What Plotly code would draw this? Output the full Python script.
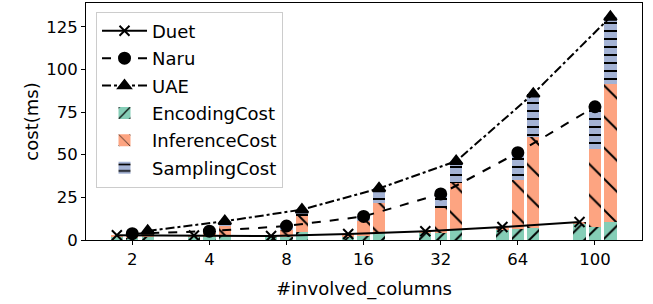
import plotly.graph_objects as go

categories = ['2', '4', '8', '16', '32', '64', '100']

duet_encoding = [1.8, 1.6, 1.5, 2.0, 4.3, 6.0, 9.3]
duet_inference = [1.0, 1.0, 0.8, 1.5, 0.8, 1.6, 1.2]
duet_sampling = [0, 0, 0, 0, 0, 0, 0]

naru_encoding = [1.2, 1.5, 2.0, 2.5, 4.3, 6.4, 7.8]
naru_inference = [1.8, 2.5, 4.0, 8.5, 14.3, 28.8, 45.5]
naru_sampling = [0.7, 1.2, 2.2, 2.8, 8.4, 16.0, 24.8]

uae_encoding = [1.5, 2.5, 4.5, 3.9, 6.0, 6.8, 10.7]
uae_inference = [2.8, 6.0, 9.5, 18.0, 27.6, 53.4, 81.0]
uae_sampling = [1.0, 2.5, 3.8, 8.3, 12.6, 25.5, 39.0]

methods = ['Duet', 'Naru', 'UAE']
offsets = [-0.2, 0.0, 0.2]
enc = [duet_encoding, naru_encoding, uae_encoding]
inf = [duet_inference, naru_inference, uae_inference]
smp = [duet_sampling, naru_sampling, uae_sampling]

FONT = 'DejaVu Sans'
idx = list(range(len(categories)))

fig = go.Figure()

# Lines (totals)
line_styles = [('solid', 'x-thin', 10), ('dash', 'circle', 11), ('dashdot', 'triangle-up', 11)]
for m, name in enumerate(methods):
    xs = [i + offsets[m] for i in idx]
    ys = [enc[m][i] + inf[m][i] + smp[m][i] for i in idx]
    dash, sym, sz = line_styles[m]
    fig.add_trace(go.Scatter(
        x=xs, y=ys, name=name, mode='lines+markers',
        line=dict(color='black', width=2, dash=dash),
        marker=dict(symbol=sym, size=sz, color='black',
                    line=dict(color='black', width=2)),
        legendgroup=name,
    ))

# Stacked bars
bar_specs = [
    ('EncodingCost', enc, 'rgba(102,194,165,0.8)', '/', 13, 0.15),
    ('InferenceCost', inf, 'rgba(252,141,98,0.8)', '\\', 22, 0.09),
    ('SamplingCost', smp, 'rgba(141,160,203,0.8)', '-', 8, 0.25),
]
for name, data, color, shape, psize, sol in bar_specs:
    xs, ys = [], []
    for m in range(3):
        for i in idx:
            xs.append(i + offsets[m])
            ys.append(data[m][i])
    fig.add_trace(go.Bar(
        x=xs, y=ys, name=name, width=0.16,
        marker=dict(color=color, line=dict(width=0),
                    pattern=dict(shape=shape, fgcolor='black', bgcolor=color,
                                 size=psize, solidity=sol, fillmode='replace')),
        legendgroup=name,
    ))

fig.update_layout(
    width=653, height=304,
    margin=dict(l=86, r=11, t=3, b=64),
    barmode='stack',
    plot_bgcolor='white', paper_bgcolor='white',
    font=dict(family=FONT, size=16, color='black'),
    showlegend=True,
    legend=dict(x=0.018, y=0.964, xanchor='left', yanchor='top',
                bgcolor='rgba(255,255,255,0.8)', bordercolor='#cccccc', borderwidth=1,
                font=dict(size=18, family=FONT), tracegroupgap=1,
                itemwidth=45, traceorder='grouped'),
    xaxis=dict(
        range=[-0.60, 6.61], tickmode='array', tickvals=idx, ticktext=categories,
        showline=True, mirror=True, linecolor='black', linewidth=1,
        ticks='outside', ticklen=4, tickcolor='black', showgrid=False, zeroline=False,
        tickfont=dict(size=16.5),
        title=dict(text='#involved_columns', font=dict(size=18), standoff=14),
    ),
    yaxis=dict(
        range=[0, 138.9], tickmode='array', tickvals=[0, 25, 50, 75, 100, 125],
        showline=True, mirror=True, linecolor='black', linewidth=1,
        ticks='outside', ticklen=4, tickcolor='black', showgrid=False, zeroline=False,
        tickfont=dict(size=16.5),
        title=dict(text='cost(ms)', font=dict(size=18), standoff=2),
    ),
)

fig.write_html('out.html', config={'displayModeBar': False},
               post_script="document.body.style.margin='0';")
